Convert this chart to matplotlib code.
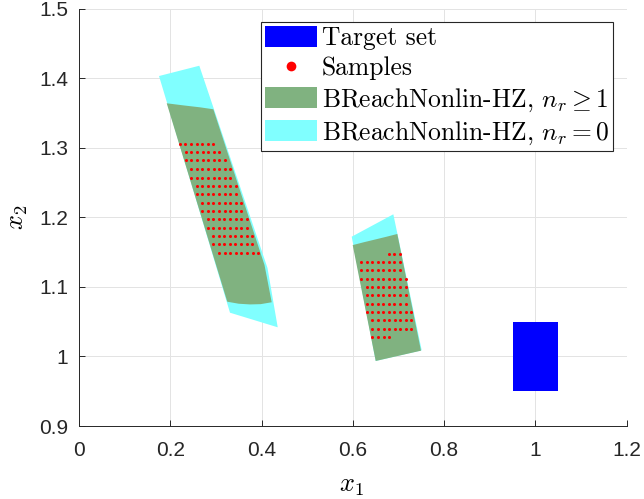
import numpy as np
import matplotlib
matplotlib.use("Agg")
import matplotlib.pyplot as plt
from matplotlib.patches import Polygon, Patch
from matplotlib.lines import Line2D
from matplotlib.font_manager import FontProperties

plt.rcParams['mathtext.fontset'] = 'cm'
plt.rcParams['font.family'] = ['Liberation Sans', 'DejaVu Sans']

# target set (box)
target_x = [0.95, 1.05, 1.05, 0.95]
target_y = [0.95, 0.95, 1.05, 1.05]

# reachable set outer (n_r = 0), cyan
cyan_left_x = [0.1753, 0.2636, 0.4130, 0.4354, 0.3308]
cyan_left_y = [1.4032, 1.4180, 1.1272, 1.0419, 1.0629]
cyan_mid_x = [0.5975, 0.6887, 0.7509, 0.6501]
cyan_mid_y = [1.1722, 1.2044, 1.0088, 0.9935]

# reachable set inner (n_r >= 1), green
green_left_x = [0.1922, 0.2285, 0.2651, 0.2943, 0.4064, 0.4222,
                0.3980, 0.3747, 0.3500, 0.3249]
green_left_y = [1.3640, 1.3610, 1.3582, 1.3554, 1.1315, 1.0779,
                1.0752, 1.0748, 1.0758, 1.0787]
green_mid_x = [0.5997, 0.6240, 0.6486, 0.6730, 0.6974, 0.7493, 0.6501]
green_mid_y = [1.1601, 1.1642, 1.1681, 1.1720, 1.1761, 1.0083, 0.9935]

# samples, one grid row per entry: y, first x, number of points
sample_step = 0.0122
left_rows_y = [1.306, 1.294, 1.282, 1.270, 1.257, 1.245, 1.233,
               1.221, 1.209, 1.197, 1.185, 1.173, 1.161, 1.149]
left_rows_x0 = [0.221, 0.234, 0.234, 0.246, 0.246, 0.258, 0.258,
                0.270, 0.270, 0.282, 0.282, 0.294, 0.294, 0.307]
left_rows_n = [7, 7, 8, 8, 8, 8, 8, 8, 8, 8, 8, 8, 8, 8]
mid_rows_y = [1.148, 1.136, 1.124, 1.112, 1.100, 1.088, 1.076,
              1.064, 1.052, 1.040, 1.028]
mid_rows_x0 = [0.679, 0.618, 0.618, 0.618, 0.630, 0.630, 0.630,
               0.630, 0.643, 0.643, 0.643]
mid_rows_n = [3, 8, 8, 9, 8, 8, 8, 9, 8, 8, 4]

green = '#80b280'
cyan = '#80ffff'

fig = plt.figure(figsize=(6.44, 4.99), dpi=100)
ax = fig.add_axes([79/644, 1 - 426/499, (626.7 - 79)/644, (426 - 8.7)/499])

for xs, ys in [(cyan_left_x, cyan_left_y), (cyan_mid_x, cyan_mid_y)]:
    ax.add_patch(Polygon(np.column_stack([xs, ys]), closed=True,
                         facecolor=cyan, edgecolor='none', zorder=2))
for xs, ys in [(green_left_x, green_left_y), (green_mid_x, green_mid_y)]:
    ax.add_patch(Polygon(np.column_stack([xs, ys]), closed=True,
                         facecolor=green, edgecolor='none', zorder=3))

ax.add_patch(Polygon(np.column_stack([target_x, target_y]), closed=True,
                     facecolor='#0000ff', edgecolor='none', zorder=3))

sx, sy = [], []
for rows_y, rows_x0, rows_n in [(left_rows_y, left_rows_x0, left_rows_n),
                                (mid_rows_y, mid_rows_x0, mid_rows_n)]:
    for y, x0, n in zip(rows_y, rows_x0, rows_n):
        for k in range(n):
            sx.append(x0 + k * sample_step)
            sy.append(y)
ax.plot(sx, sy, 'o', color='red', markersize=2.2, markeredgewidth=0, zorder=4)

ax.set_xlim(0, 1.2)
ax.set_ylim(0.9, 1.5)
ax.set_xticks([0, 0.2, 0.4, 0.6, 0.8, 1, 1.2])
ax.set_xticklabels(['0', '0.2', '0.4', '0.6', '0.8', '1', '1.2'])
ax.set_yticks([0.9, 1, 1.1, 1.2, 1.3, 1.4, 1.5])
ax.set_yticklabels(['0.9', '1', '1.1', '1.2', '1.3', '1.4', '1.5'])
ax.tick_params(direction='in', length=4, width=0.7, colors='#262626',
               labelsize=15)
ax.tick_params(axis='x', pad=11)
ax.tick_params(axis='y', pad=8)
ax.grid(True, color='#e3e3e3', linewidth=0.7)
ax.set_axisbelow(True)
for s in ['top', 'right']:
    ax.spines[s].set_visible(False)
for s in ['left', 'bottom']:
    ax.spines[s].set_color('#262626')
    ax.spines[s].set_linewidth(0.7)

ax.set_xlabel(r'$x_1$', fontsize=19)
ax.set_ylabel(r'$x_2$', fontsize=19)
ax.xaxis.set_label_coords(0.498, -0.115)
ax.yaxis.set_label_coords(-0.09, 0.5)

handles = [
    Patch(facecolor='#0000ff', edgecolor='none'),
    Line2D([], [], linestyle='none', marker='o', color='red',
           markersize=7, markeredgewidth=0),
    Patch(facecolor=green, edgecolor='none'),
    Patch(facecolor=cyan, edgecolor='none'),
]
labels = ['Target set', 'Samples',
          r'BReachNonlin-HZ, $n_r \geq 1$',
          r'BReachNonlin-HZ, $n_r = 0$']
leg = ax.legend(handles, labels, loc='upper right',
                bbox_to_anchor=(613.3/644, 1 - 21.7/499),
                bbox_transform=fig.transFigure, borderaxespad=0,
                prop=FontProperties(family='cmr10', size=18.4),
                handlelength=2.05, handleheight=0.9, handletextpad=0.2,
                borderpad=0.15, labelspacing=0.23, fancybox=False,
                framealpha=1, edgecolor='#262626')
leg.get_frame().set_linewidth(0.8)

fig.savefig('out.png', dpi=100)
